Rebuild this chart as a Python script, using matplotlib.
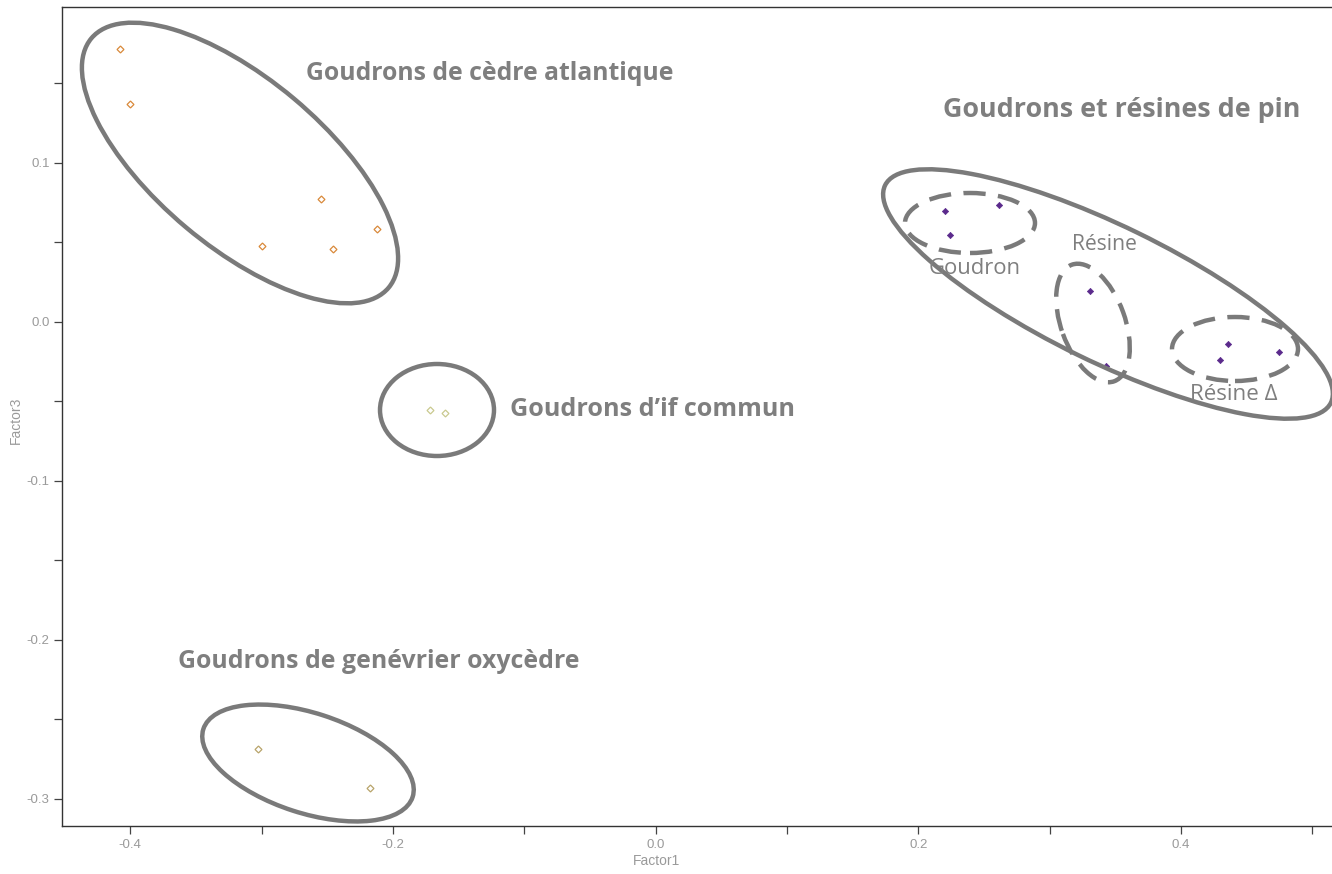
import matplotlib
matplotlib.use("Agg")
import matplotlib.pyplot as plt
from matplotlib.patches import Ellipse
from matplotlib.transforms import IdentityTransform
from matplotlib.ticker import MultipleLocator
from matplotlib import font_manager

# scores (Factor1, Factor3)
cedre_x = [-0.408, -0.400, -0.255, -0.300, -0.2455, -0.2125]
cedre_y = [0.1717, 0.137, 0.0774, 0.0478, 0.0459, 0.0583]
if_x = [-0.1716, -0.1607]
if_y = [-0.0553, -0.0574]
genevrier_x = [-0.3026, -0.2178]
genevrier_y = [-0.2686, -0.2931]
pin_x = [0.220, 0.2612, 0.2244, 0.3305, 0.343, 0.436, 0.430, 0.4747]
pin_y = [0.0696, 0.0732, 0.0545, 0.0197, -0.0275, -0.0140, -0.0239, -0.0187]

W, H = 1332, 874
fig = plt.figure(figsize=(W / 100, H / 100), dpi=100)
ax = fig.add_axes([62 / W, 48 / H, 1 - 62 / W, (826 - 7) / H])

ax.plot(cedre_x, cedre_y, 'D', ms=3.5, mfc='white', mec='#d9893a', mew=0.9)
ax.plot(if_x, if_y, 'D', ms=3.5, mfc='white', mec='#c9c98f', mew=0.9)
ax.plot(genevrier_x, genevrier_y, 'D', ms=3.5, mfc='white', mec='#b8a46a', mew=0.9)
ax.plot(pin_x, pin_y, 'D', ms=3.2, mfc='#5b2a8c', mec='#5b2a8c', mew=0.5)

names = {f.name for f in font_manager.fontManager.ttflist}
tickfont = 'Liberation Sans Narrow' if 'Liberation Sans Narrow' in names else 'Liberation Sans'

ax.set_xlim(-0.452, 0.515)
ax.set_ylim(-0.317, 0.198)
ax.xaxis.set_major_locator(MultipleLocator(0.2))
ax.xaxis.set_minor_locator(MultipleLocator(0.1))
ax.yaxis.set_major_locator(MultipleLocator(0.1))
ax.yaxis.set_minor_locator(MultipleLocator(0.05))
ax.tick_params(which='both', direction='out', length=6, width=0.9, color='#444444',
               labelcolor='#9a9a9a', labelsize=9.5, pad=3)
ax.xaxis.set_major_formatter(plt.FuncFormatter(lambda v, p: f"{v:.1f}"))
ax.yaxis.set_major_formatter(plt.FuncFormatter(lambda v, p: f"{v:.1f}"))
for t in ax.get_xticklabels() + ax.get_yticklabels():
    t.set_family(tickfont)
for s in ['left', 'top', 'bottom']:
    ax.spines[s].set_color('#333333')
    ax.spines[s].set_linewidth(1)
ax.spines['right'].set_visible(False)
ax.set_xlabel('Factor1', color='#9a9a9a', fontsize=10, family=tickfont, va='center')
ax.set_ylabel('Factor3', color='#9a9a9a', fontsize=10, family=tickfont, va='center')
ax.xaxis.set_label_coords((656 - 62) / 1270, -(861 - 826) / 819)
ax.yaxis.set_label_coords(-(62 - 16) / 1270, (826 - 420) / 819)

# annotation shapes in pixel coordinates (image y measured from the top)
pix = IdentityTransform()
grey = '#7a7a7a'
def ell(cx, cy, a, b, ang, dashed=False):
    e = Ellipse((cx, H - cy), 2 * a, 2 * b, angle=-ang, fill=False, ec=grey, lw=3.2,
                transform=pix, clip_on=False)
    if dashed:
        e.set_linestyle((0, (5, 2.8)))
    fig.add_artist(e)

ell(240, 163, 194, 84, 40)
ell(437, 410, 57, 46, 0)
ell(308, 763, 110, 50, 18)
ell(1108, 294, 248, 68, 26)
ell(970, 223, 65, 30, 0, dashed=True)
ell(1093, 323, 62, 32, 70, dashed=True)
ell(1235, 349, 63, 32, 0, dashed=True)

fam = ['Open Sans', 'DejaVu Sans']
labels = []
def lab(x, y, s, width, bold=True, size=17):
    t = fig.text(x, H - y, s, transform=pix, color='#7f7f7f', fontsize=size,
                 fontweight='bold' if bold else 'normal', family=fam, va='center', ha='left')
    labels.append((t, width))

lab(306, 74, 'Goudrons de cèdre atlantique', 366)
lab(943, 110, 'Goudrons et résines de pin', 358)
lab(510, 410, 'Goudrons d’if commun', 284)
lab(178, 662, 'Goudrons de genévrier oxycèdre', 401)
lab(929, 269, 'Goudron', 92, bold=False, size=15)
lab(1072, 245, 'Résine', 65, bold=False, size=15)
lab(1190, 394, 'Résine Δ', 88, bold=False, size=15)

# fit each label to the width it takes in the reference
r = fig.canvas.get_renderer()
for t, w in labels:
    cur = t.get_window_extent(r).width
    t.set_fontsize(t.get_fontsize() * w / cur)

fig.savefig('out.png', dpi=100)
